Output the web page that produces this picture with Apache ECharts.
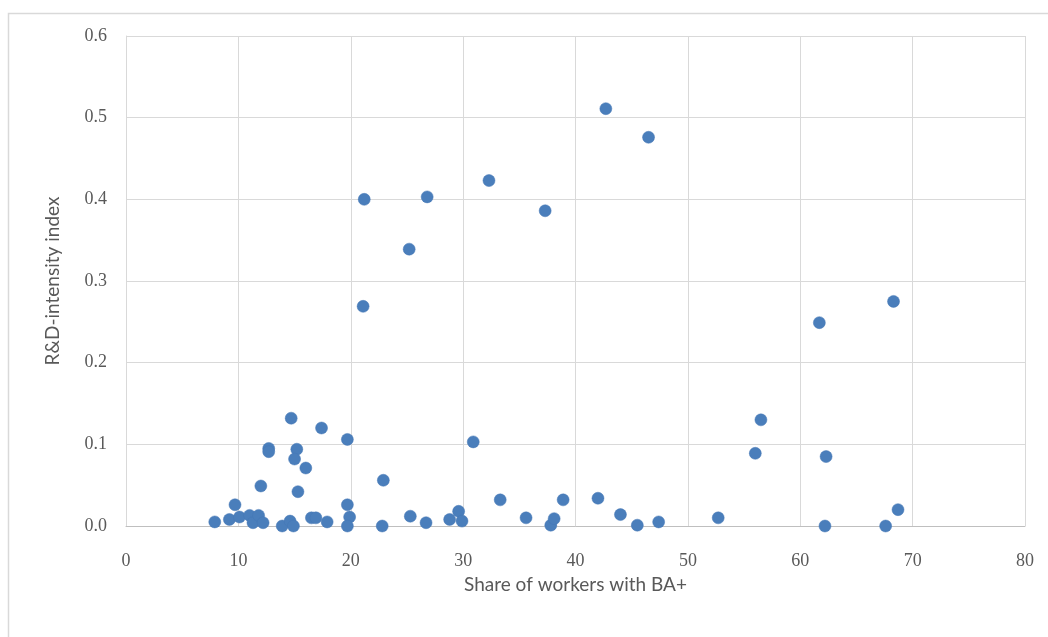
<!DOCTYPE html>
<html>
<head>
<meta charset="utf-8">
<script src="https://cdn.jsdelivr.net/npm/echarts@6/dist/echarts.min.js"></script>
<style>html,body{margin:0;padding:0;background:#fff}#c{width:1048px;height:637px}</style>
</head>
<body>
<div id="c"></div>
<script>
// Share of workers with BA+ (x) and R&D-intensity index (y)
const shareBA = [
  7.9, 9.2, 9.7, 10.1, 11.0, 11.3, 11.8, 12.2, 12.0, 12.7, 12.7,
  13.9, 14.6, 14.7, 14.9, 15.2, 15.0, 16.0, 15.3, 16.5, 16.9, 17.4, 17.9,
  19.7, 19.7, 19.9, 19.7, 21.2, 21.1, 22.9, 22.8, 25.2, 25.3, 26.7, 26.8,
  28.8, 29.6, 29.9, 30.9, 32.3, 33.3, 35.6, 37.3, 37.8, 38.1, 38.9,
  42.0, 42.7, 44.0, 45.5, 46.5, 47.4, 52.7, 56.0, 56.5, 61.7, 62.3,
  62.2, 67.6, 68.3, 68.7
];
const rdIndex = [
  0.005, 0.008, 0.026, 0.011, 0.013, 0.004, 0.013, 0.004, 0.049, 0.095, 0.091,
  0.000, 0.006, 0.132, 0.000, 0.094, 0.082, 0.071, 0.042, 0.010, 0.010, 0.120, 0.005,
  0.106, 0.026, 0.011, 0.000, 0.400, 0.269, 0.056, 0.000, 0.339, 0.012, 0.004, 0.403,
  0.008, 0.018, 0.006, 0.103, 0.423, 0.032, 0.010, 0.386, 0.001, 0.009, 0.032,
  0.034, 0.511, 0.014, 0.001, 0.476, 0.005, 0.010, 0.089, 0.130, 0.249, 0.085,
  0.000, 0.000, 0.275, 0.020
];
const xTitle = 'Share of workers with BA+';
const yTitle = 'R&D-intensity index';

const points = shareBA.map((x, i) => [x, rdIndex[i]]);
const chart = echarts.init(document.getElementById('c'), null, {renderer: 'canvas'});
chart.setOption({
  animation: false,
  backgroundColor: '#ffffff',
  graphic: [{
    type: 'rect', left: 6, top: 11, z: -10,
    shape: {width: 1200, height: 800},
    style: {fill: 'none', stroke: '#d9d9d9', lineWidth: 1.5}
  }],
  grid: {left: 126, right: 23, top: 36, bottom: 111, containLabel: false},
  xAxis: {
    type: 'value', min: 0, max: 80, interval: 10,
    name: xTitle, nameLocation: 'middle', nameGap: 40,
    nameTextStyle: {fontFamily: 'Lato, sans-serif', fontSize: 19, color: '#595959'},
    axisLine: {show: true, lineStyle: {color: '#bfbfbf', width: 1}},
    axisTick: {show: false},
    axisLabel: {fontFamily: 'Liberation Serif, serif', fontSize: 18, color: '#595959', margin: 26},
    splitLine: {show: true, lineStyle: {color: '#d9d9d9', width: 1}}
  },
  yAxis: {
    type: 'value', min: 0, max: 0.6, interval: 0.1,
    name: yTitle, nameLocation: 'middle', nameGap: 64,
    nameTextStyle: {fontFamily: 'Lato, sans-serif', fontSize: 19, color: '#595959'},
    axisLine: {show: true, lineStyle: {color: '#d9d9d9', width: 1}},
    axisTick: {show: false},
    axisLabel: {fontFamily: 'Liberation Serif, serif', fontSize: 18, color: '#595959', margin: 19,
      formatter: v => v.toFixed(1)},
    splitLine: {show: true, lineStyle: {color: '#d9d9d9', width: 1}}
  },
  series: [{
    type: 'scatter',
    data: points,
    symbol: 'circle',
    symbolSize: 12,
    itemStyle: {color: '#4a7ebb', opacity: 1, borderColor: '#4576b5', borderWidth: 0.5}
  }]
});
</script>
</body>
</html>
